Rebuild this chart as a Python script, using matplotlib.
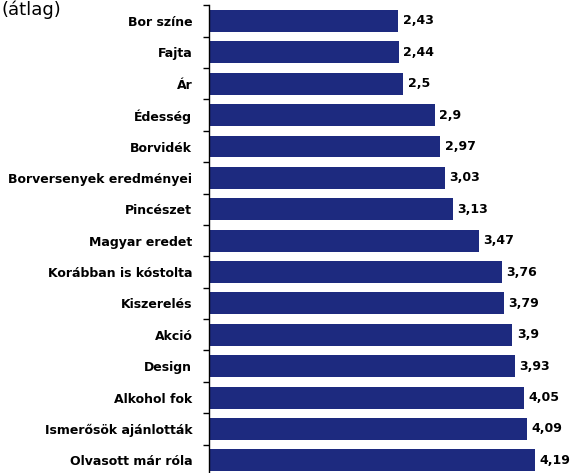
import matplotlib
matplotlib.use("Agg")
import matplotlib.pyplot as plt
import numpy as np

categories = ["Bor színe", "Fajta", "Ár", "Édesség", "Borvidék",
              "Borversenyek eredményei", "Pincészet", "Magyar eredet",
              "Korábban is kóstolta", "Kiszerelés", "Akció", "Design",
              "Alkohol fok", "Ismerősök ajánlották", "Olvasott már róla"]
values = [2.43, 2.44, 2.5, 2.9, 2.97, 3.03, 3.13, 3.47, 3.76, 3.79, 3.9, 3.93,
          4.05, 4.09, 4.19]
value_labels = ["2,43", "2,44", "2,5", "2,9", "2,97", "3,03", "3,13", "3,47",
                "3,76", "3,79", "3,9", "3,93", "4,05", "4,09", "4,19"]

W, H = 572, 473
fig = plt.figure(figsize=(W / 100, H / 100), dpi=100)
left = 209 / W
top = 1 - 5.3 / H
bottom = 1 - 476 / H
ax = fig.add_axes([left, bottom, 1 - left, top - bottom])

y = np.arange(len(categories))
ax.barh(y, values, height=0.70, color="#1d2a7f", edgecolor="none")
ax.set_ylim(len(categories) - 0.5, -0.5)
ax.set_xlim(0, (W - 209) / 77.8)

for yi, v, lab in zip(y, values, value_labels):
    ax.text(v + 0.06, yi, lab, va="center", ha="left", fontsize=9,
            fontweight="bold", color="black")

ax.set_yticks(y)
ax.set_yticklabels(categories, fontsize=9, fontweight="bold")
ax.tick_params(axis="y", which="major", length=0, pad=12)
ax.set_yticks(np.arange(-0.5, len(categories) + 0.5, 1), minor=True)
ax.tick_params(axis="y", which="minor", length=4, width=1, direction="out")
ax.set_xticks([])
for s in ["top", "right", "bottom"]:
    ax.spines[s].set_visible(False)
ax.spines["left"].set_linewidth(1)

fig.text(0.002, 0.998, "(átlag)", fontsize=13, ha="left", va="top")

fig.savefig("out.png", dpi=100)
